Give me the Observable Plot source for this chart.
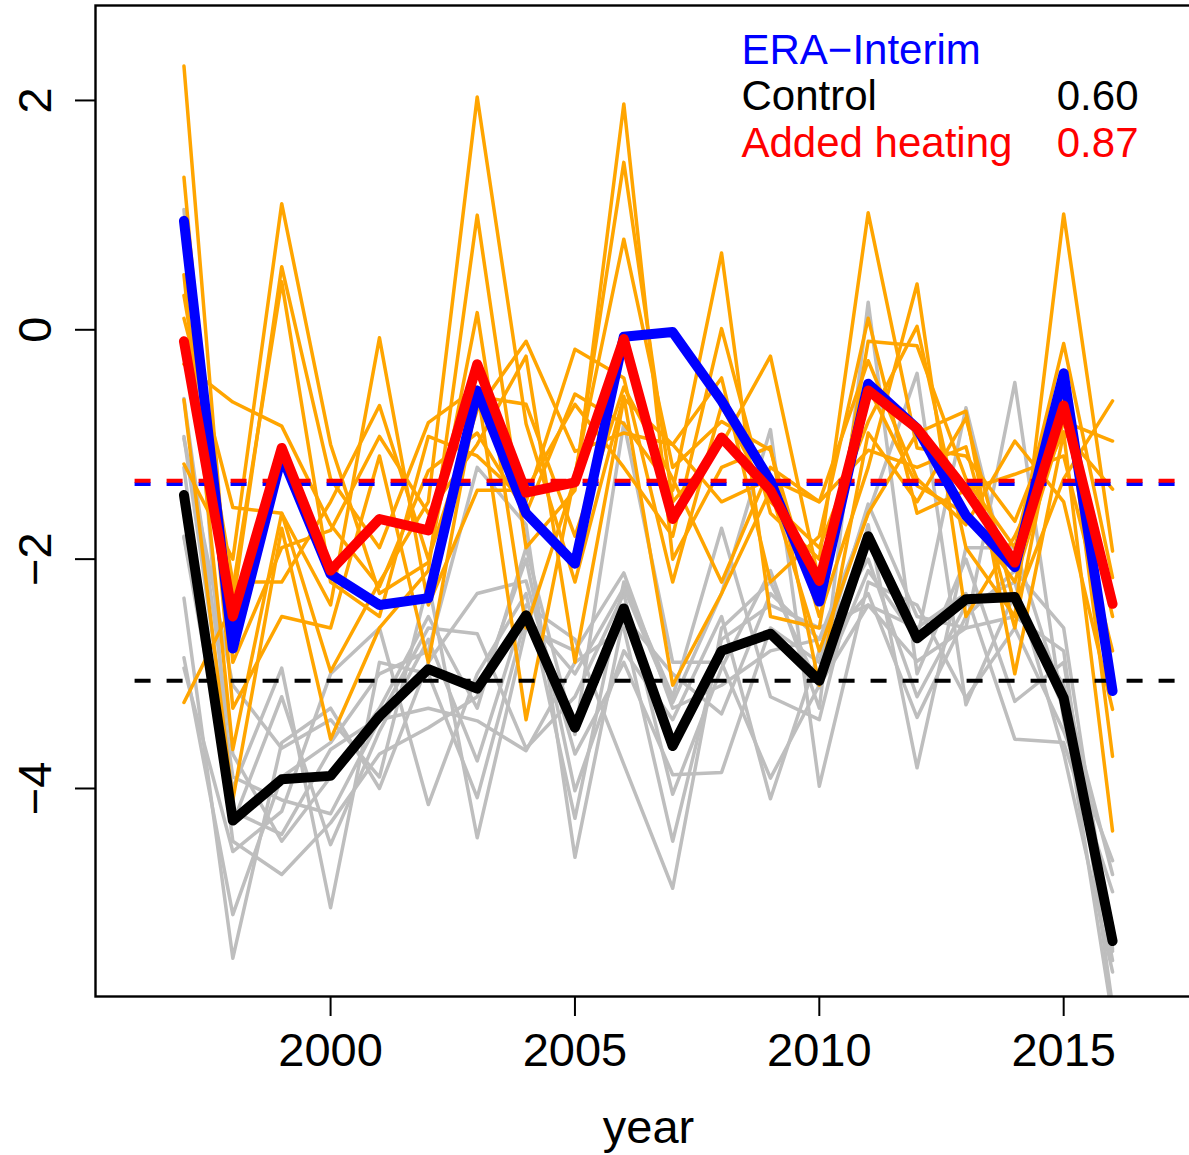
<!DOCTYPE html>
<html>
<head>
<meta charset="utf-8">
<script src="https://cdn.jsdelivr.net/npm/d3@7"></script>
<script src="https://cdn.jsdelivr.net/npm/@observablehq/plot@0.6"></script>
<style>
  html, body { margin: 0; padding: 0; background: white; }
  #chart svg { display: block; }
</style>
</head>
<body>
<div id="chart"></div>
<script>
// ---- data ----
const years = [1997, 1998, 1999, 2000, 2001, 2002, 2003, 2004, 2005, 2006,
               2007, 2008, 2009, 2010, 2011, 2012, 2013, 2014, 2015, 2016];

const eraInterim = [0.95, -2.78, -1.10, -2.13, -2.40, -2.34, -0.53, -1.60, -2.04, -0.06,
                    -0.02, -0.62, -1.32, -2.37, -0.47, -0.86, -1.62, -2.07, -0.38, -3.15];

const controlMean = [-1.44, -4.28, -3.92, -3.89, -3.37, -2.96, -3.13, -2.49, -3.47, -2.43,
                     -3.63, -2.80, -2.65, -3.06, -1.80, -2.69, -2.35, -2.33, -3.21, -5.33];

const heatingMean = [-0.10, -2.50, -1.03, -2.10, -1.65, -1.75, -0.30, -1.42, -1.33, -0.08,
                     -1.65, -0.94, -1.40, -2.19, -0.53, -0.86, -1.40, -2.03, -0.66, -2.39];

const controlMembers = [
  [1.05, -4.30, -3.20, -4.49, -3.50, -2.70, -3.76, -2.40, -2.70, -3.79, -4.87, -2.60, -2.20, -3.12, -2.10, -2.70, -0.68, -2.40, -3.10, -4.75],
  [-0.93, -3.90, -4.10, -4.22, -3.40, -3.30, -3.41, -3.67, -2.90, -2.60, -4.46, -2.70, -2.40, -2.60, -2.40, -2.60, -2.30, -3.57, -3.60, -4.90],
  [-1.81, -4.20, -4.40, -3.66, -3.38, -2.60, -2.65, -3.65, -3.20, -2.30, -4.05, -2.95, -2.10, -3.30, 0.24, -3.00, -2.00, -3.24, -2.90, -5.42],
  [-2.34, -5.48, -3.60, -3.30, -4.00, -2.90, -2.30, -2.19, -3.70, -2.90, -3.88, -3.86, -2.60, -2.90, -1.52, -2.50, -2.60, -0.46, -3.40, -5.20],
  [-2.86, -5.10, -3.90, -3.60, -3.00, -2.80, -1.20, -1.70, -4.60, -2.50, -3.00, -3.35, -2.30, -2.70, -2.00, -3.20, -2.40, -2.20, -3.69, -5.60],
  [-2.95, -4.55, -4.20, -3.00, -2.60, -4.14, -3.00, -2.30, -4.26, -2.20, -3.20, -1.73, -3.20, -3.40, -1.70, -3.82, -1.90, -1.90, -3.24, -5.50],
  [-1.20, -4.46, -4.75, -4.30, -3.70, -3.47, -3.20, -2.00, -4.02, -2.80, -3.40, -2.50, -4.09, -2.80, -2.30, -3.38, -2.50, -2.10, -2.60, -5.40],
  [-0.60, -3.70, -4.46, -3.90, -3.30, -2.50, -3.30, -1.90, -3.53, -0.81, -2.90, -2.90, -3.91, -3.10, -2.40, -2.89, -2.60, -2.50, -2.80, -5.90],
  [-0.95, -3.10, -3.65, -3.40, -3.90, -2.20, -4.43, -2.60, -2.80, -2.12, -3.30, -3.10, -2.80, -2.70, -1.60, -0.38, -3.27, -2.30, -3.30, -6.00],
  [-1.80, -4.00, -2.95, -5.04, -2.90, -3.00, -4.08, -2.50, -3.00, -2.25, -3.25, -2.30, -0.87, -3.98, -2.20, -2.40, -3.21, -2.60, -3.50, -4.63]
];

const heatingMembers = [
  [2.30, -2.90, -1.90, -1.75, -0.93, -1.60, -1.00, -0.23, -2.90, -0.60, -1.00, -1.50, -1.30, -1.50, -0.27, -1.30, -1.70, -0.97, -1.50, -3.31],
  [1.33, -3.30, -2.50, -2.60, -1.10, -2.90, -0.58, -0.65, -1.80, -0.50, -1.30, -2.20, -1.20, -1.50, -1.05, -1.20, -1.02, -2.60, -0.40, -3.72],
  [0.48, -3.66, -1.60, -2.98, -2.20, -1.50, 2.03, -0.82, -2.20, -0.58, -3.10, -2.30, -1.40, -2.80, -1.60, -0.90, -0.71, -3.00, -0.90, -4.37],
  [-0.61, -4.10, -1.73, -3.57, -2.60, -2.10, 1.00, -1.90, -1.40, 1.97, -2.00, -1.20, -1.02, -3.10, -0.90, -1.50, -0.77, -2.40, -1.30, -0.62],
  [-1.17, -2.00, 1.10, -1.00, -2.30, -2.03, 0.15, -2.60, -1.30, 1.46, -1.50, -1.00, -0.23, -2.20, -0.50, -1.36, -1.60, -2.20, -0.80, -0.97],
  [-3.25, -2.40, 0.55, -1.30, -1.90, -0.81, -0.50, -3.40, -1.26, 0.79, -1.20, -0.80, -1.05, -2.50, -1.20, 0.40, -2.50, -1.80, -0.89, -1.39],
  [-0.20, -2.26, 0.42, -2.20, -2.50, -0.93, -1.10, -1.50, -0.17, -0.42, -2.20, -0.66, -1.50, -1.90, -0.80, 0.03, -1.90, -2.50, 1.01, -1.93],
  [-0.30, -0.63, -0.84, -1.70, -2.24, -1.23, -0.90, -1.60, -0.56, -0.82, -1.40, 0.67, -2.50, -2.60, -0.10, -0.14, -1.30, -1.90, -0.12, -2.16],
  [0.10, -1.55, -1.60, -2.40, -0.07, -2.40, -1.40, -1.40, -0.65, -1.20, -1.80, 0.01, -1.60, -2.00, 1.02, -1.03, -1.10, -1.67, -0.60, -2.50],
  [0.30, -2.20, -2.20, -1.50, -0.66, -2.00, -0.70, -0.10, -1.06, -0.90, -1.00, -0.42, -2.20, -1.80, 0.10, -1.60, -1.40, -1.26, -1.10, -2.80]
];

const legendLabels = ["ERA−Interim", "Control", "Added heating"];
const legendValues = ["", "0.60", "0.87"];
const legendColors = ["#0000FF", "#000000", "#FF0000"];
const xTicks = [2000, 2005, 2010, 2015];
const yTicks = [-4, -2, 0, 2];
const xLabel = "year";
const dashedStart = 1996;

// ---- layout ----
const W = 1189, H = 1155;
const xDomain = [1995.19, 2017.82];
const yDomain = [-5.814, 2.828];
const font = "'Liberation Sans', Arial, Helvetica, sans-serif";

const toTable = (members) => members.flatMap((vals, m) =>
  vals.map((v, i) => ({member: m, year: years[i], value: v})));
const series = (vals) => vals.map((v, i) => ({year: years[i], value: v}));

const controlTable = toTable(controlMembers);
const heatingTable = toTable(heatingMembers);

const meanEra = d3.mean(eraInterim);
const meanControl = d3.mean(controlMean);
const meanHeating = d3.mean(heatingMean);

const thick = {strokeWidth: 10, strokeLinecap: "round", strokeLinejoin: "round", clip: true};
const thin = {strokeWidth: 3.5, strokeLinecap: "round", strokeLinejoin: "round", clip: true};
const dashed = {x1: dashedStart, x2: xDomain[1], strokeWidth: 4, strokeDasharray: "16,16", clip: true};

const legendMarks = [];
legendLabels.forEach((label, i) => {
  legendMarks.push(Plot.text([label], {
    text: d => d, frameAnchor: "top-left", dx: 646, dy: 58 + 46.5 * i,
    lineAnchor: "bottom", textAnchor: "start", fill: legendColors[i], fontSize: 42
  }));
  if (legendValues[i]) {
    legendMarks.push(Plot.text([legendValues[i]], {
      text: d => d, frameAnchor: "top-left", dx: 1043, dy: 58 + 46.5 * i,
      lineAnchor: "bottom", textAnchor: "end", fill: legendColors[i], fontSize: 42
    }));
  }
});

const chart = Plot.plot({
  width: W,
  height: H,
  marginLeft: 95,
  marginRight: -12,
  marginTop: 5,
  marginBottom: 159,
  style: {fontFamily: font, background: "white", color: "black"},
  x: {domain: xDomain},
  y: {domain: yDomain},
  marks: [
    Plot.line(controlTable, {x: "year", y: "value", z: "member", stroke: "#BEBEBE", ...thin}),
    Plot.line(heatingTable, {x: "year", y: "value", z: "member", stroke: "#FFA500", ...thin}),
    Plot.ruleY([meanControl], {...dashed, stroke: "#000000"}),
    Plot.ruleY([meanEra], {...dashed, stroke: "#0000FF"}),
    Plot.ruleY([meanHeating], {...dashed, stroke: "#FF0000"}),
    Plot.line(series(controlMean), {x: "year", y: "value", stroke: "#000000", ...thick}),
    Plot.line(series(eraInterim), {x: "year", y: "value", stroke: "#0000FF", ...thick}),
    Plot.line(series(heatingMean), {x: "year", y: "value", stroke: "#FF0000", ...thick}),
    Plot.frame({stroke: "black", strokeWidth: 2.4}),
    Plot.axisX({ticks: xTicks, tickFormat: d => String(d), tickSize: 20, tickPadding: 16.6,
                fontSize: 47, strokeWidth: 2, label: null}),
    Plot.axisY({ticks: yTicks, tickSize: 20, tickPadding: 25, tickRotate: -90,
                fontSize: 47, strokeWidth: 2, label: null}),
    Plot.text([xLabel], {text: d => d, frameAnchor: "bottom", dy: 146, lineAnchor: "bottom",
                         textAnchor: "middle", fontSize: 47, fill: "black"}),
    ...legendMarks
  ]
});

document.getElementById("chart").appendChild(chart);
</script>
</body>
</html>
